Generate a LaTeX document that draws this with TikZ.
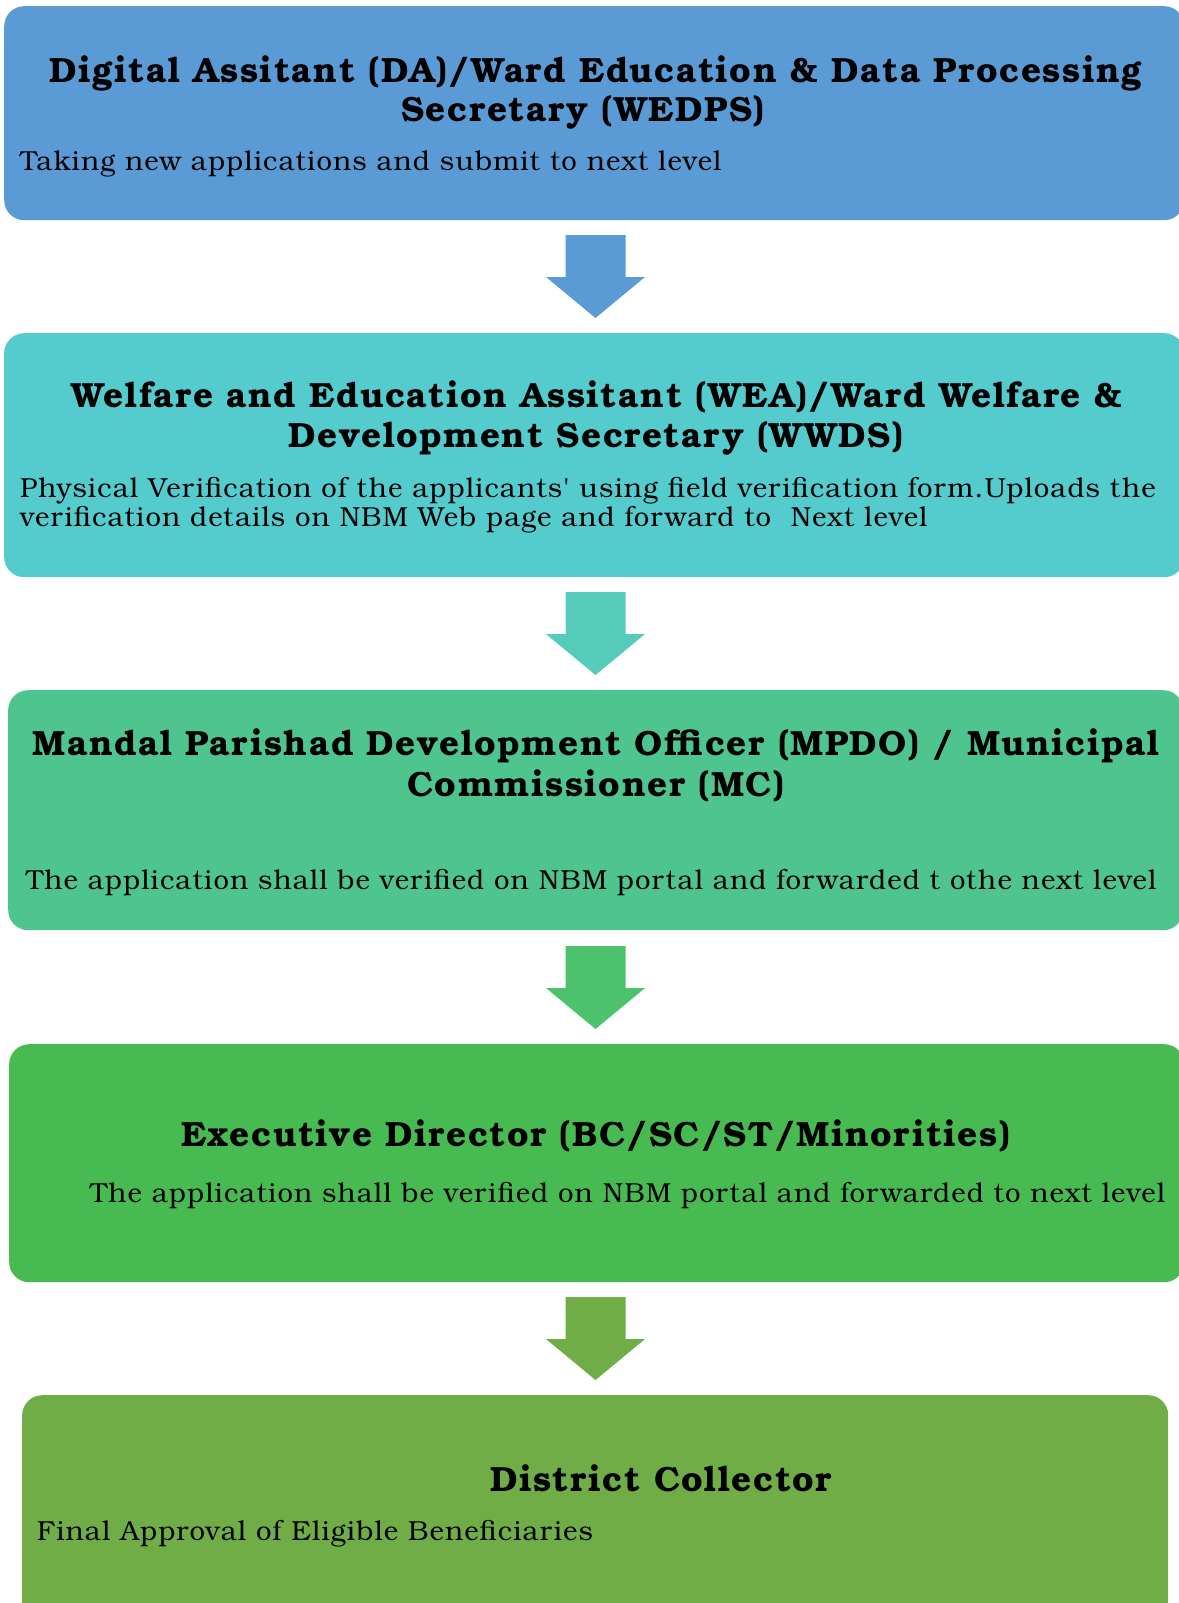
\documentclass[tikz,border=0pt]{standalone}
\usepackage{fontspec}
\setmainfont{TeX Gyre Bonum}[Ligatures=TeXOff]
\newfontfamily\ttlfont{TeX Gyre Bonum Bold}[Ligatures=TeXOff,LetterSpace=4.3]
\newfontfamily\bdyfont{TeX Gyre Bonum}[Ligatures=TeXOff,LetterSpace=4.1]
\definecolor{cA}{HTML}{5B9BD5}
\definecolor{cB}{HTML}{54CBCD}
\definecolor{cC}{HTML}{4EC58F}
\definecolor{cD}{HTML}{47BA52}
\definecolor{cE}{HTML}{70AD47}
\definecolor{aB}{HTML}{55CBB9}
\definecolor{aC}{HTML}{4BC26B}
\begin{document}
\begin{tikzpicture}[x=1pt,y=-1pt,
  stage/.style={draw=none, rounded corners=20pt, inner sep=0pt, anchor=north west},
  ttl/.style={inner sep=0pt, font=\fontsize{35}{40}\ttlfont, anchor=base},
  bdy/.style={inner sep=0pt, font=\fontsize{27.5}{28}\bdyfont, anchor=base west}]
\useasboundingbox (0,0) rectangle (1178,1603);
% boxes
\node[stage, fill=cA, minimum width=1180pt, minimum height=214pt] (b1) at (4,6) {};
\node[stage, fill=cB, minimum width=1180pt, minimum height=244pt] (b2) at (4,333) {};
\node[stage, fill=cC, minimum width=1175pt, minimum height=240pt] (b3) at (8,690) {};
\node[stage, fill=cD, minimum width=1175pt, minimum height=238pt] (b4) at (9,1044) {};
\node[stage, fill=cE, minimum width=1146pt, minimum height=230pt] (b5) at (22,1395) {};
% arrows
\foreach \t/\c in {235/cA,592/aB,946/aC,1297/cE}{
  \fill[\c] (565.5,\t) -- (625.5,\t) -- (625.5,\t+42) -- (645,\t+42) -- (595.5,\t+83)
     -- (546,\t+42) -- (565.5,\t+42) -- cycle;
}
% texts box 1
\node[ttl] (t1a) at (596,82) {Digital Assitant (DA)/Ward Education \& Data Processing};
\node[ttl] (t1b) at (583,121) {Secretary (WEDPS)};
\node[bdy] (d1a) at (20,170) {Taking new applications and submit to next level};
% box 2
\node[ttl] (t2a) at (597,407) {Welfare and Education Assitant (WEA)/Ward Welfare \&};
\node[ttl] (t2b) at (596,447) {Development Secretary (WWDS)};
\node[bdy] (d2a) at (20,497) {Physical Verification of the applicants' using field verification form.Uploads the};
\node[bdy] (d2b) at (20,526) {verification details on NBM Web page and forward to\ \ Next level};
% box 3
\node[ttl] (t3a) at (596,755) {Mandal Parishad Development Officer (MPDO) / Municipal};
\node[ttl] (t3b) at (596,796) {Commissioner (MC)};
\node[bdy] (d3a) at (26,889) {The application shall be verified on NBM portal and forwarded t othe next level};
% box 4
\node[ttl] (t4a) at (596,1146) {Executive Director (BC/SC/ST/Minorities)};
\node[bdy] (d4a) at (90,1202) {The application shall be verified on NBM portal and forwarded to next level};
% box 5
\node[ttl] (t5a) at (661,1491) {District Collector};
\node[bdy] (d5a) at (37,1540) {Final Approval of Eligible Beneficiaries};
\end{tikzpicture}
\end{document}
